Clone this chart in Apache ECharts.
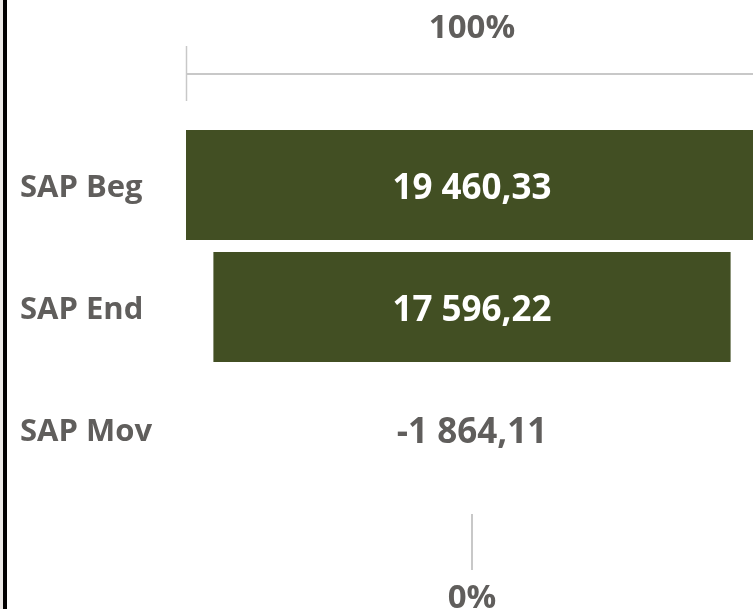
<!DOCTYPE html>
<html>
<head>
<meta charset="utf-8">
<script src="https://cdn.jsdelivr.net/npm/echarts@6/dist/echarts.min.js"></script>
<style>
  html, body { margin: 0; padding: 0; background: #fff; }
  #edge { position: absolute; left: 0; top: 0; width: 3px; height: 609px; background: #ece9e6; }
  #bar { position: absolute; left: 3px; top: 0; width: 4px; height: 609px; background: #000; }
  #funnel { position: absolute; left: 0; top: 0; width: 753px; height: 609px; }
</style>
</head>
<body>
<div id="funnel"></div>
<div id="edge"></div>
<div id="bar"></div>
<script>
// stages of the funnel, top to bottom
const stages = ['SAP Beg', 'SAP End', 'SAP Mov'];
const values = [19460.33, 17596.22, -1864.11];
const topLabel = '100%';
const bottomLabel = '0%';

const barColor = '#424f23';
const textColor = '#605e5c';
const lineColor = '#c8c8c8';

const maxVal = Math.max(...values);

// 19 460,33 style
function fmt(v) {
    const neg = v < 0;
    const parts = Math.abs(v).toFixed(2).split('.');
    const int = parts[0].replace(/\B(?=(\d{3})+(?!\d))/g, ' ');
    return (neg ? '-' : '') + int + ',' + parts[1];
}

// bars are centred: a hidden spacer pushes each one in from the left
const spacer = values.map(v => (maxVal - Math.max(v, 0)) / 2);
const shown = values.map((v, i) => ({
    value: Math.max(v, 0),
    label: { color: v > 0 ? '#ffffff' : textColor }
}));

var myChart = echarts.init(document.getElementById('funnel'));

var option = {
    animation: false,
    grid: { left: 186, top: 124, width: 572, height: 366, outerBoundsMode: 'none' },
    xAxis: {
        type: 'value', min: 0, max: maxVal,
        show: false
    },
    yAxis: {
        type: 'category',
        data: stages,
        inverse: true,
        axisLine: { show: false },
        axisTick: { show: false },
        splitLine: { show: false },
        axisLabel: {
            margin: 166,
            align: 'left',
            formatter: v => '{n|' + v + '}',
            rich: {
                n: {
                    color: textColor,
                    fontFamily: 'Open Sans',
                    fontWeight: 'bold',
                    fontSize: 31,
                    padding: [7, 0, 0, 0]
                }
            }
        }
    },
    series: [
        {
            type: 'bar', stack: 'f', silent: true,
            data: spacer,
            itemStyle: { color: 'transparent' },
            barWidth: 110
        },
        {
            type: 'bar', stack: 'f',
            data: shown,
            barWidth: 110,
            itemStyle: { color: barColor },
            label: {
                show: true,
                position: 'inside',
                offset: [0, 4],
                fontFamily: 'Open Sans',
                fontWeight: 'bold',
                fontSize: 35,
                formatter: p => fmt(values[p.dataIndex])
            }
        }
    ],
    graphic: [
        { type: 'line', shape: { x1: 186, y1: 74, x2: 753, y2: 74 }, style: { stroke: lineColor, lineWidth: 2 } },
        { type: 'line', shape: { x1: 186.5, y1: 46, x2: 186.5, y2: 101 }, style: { stroke: lineColor, lineWidth: 1.5 } },
        { type: 'text', x: 472, y: 29, style: { text: topLabel, fill: textColor, font: 'bold 33px "Open Sans"', align: 'center', verticalAlign: 'middle' } },
        { type: 'line', shape: { x1: 472, y1: 514, x2: 472, y2: 570 }, style: { stroke: lineColor, lineWidth: 2 } },
        { type: 'text', x: 472, y: 599, style: { text: bottomLabel, fill: textColor, font: 'bold 33px "Open Sans"', align: 'center', verticalAlign: 'middle' } }
    ]
};
myChart.setOption(option);
</script>
</body>
</html>
